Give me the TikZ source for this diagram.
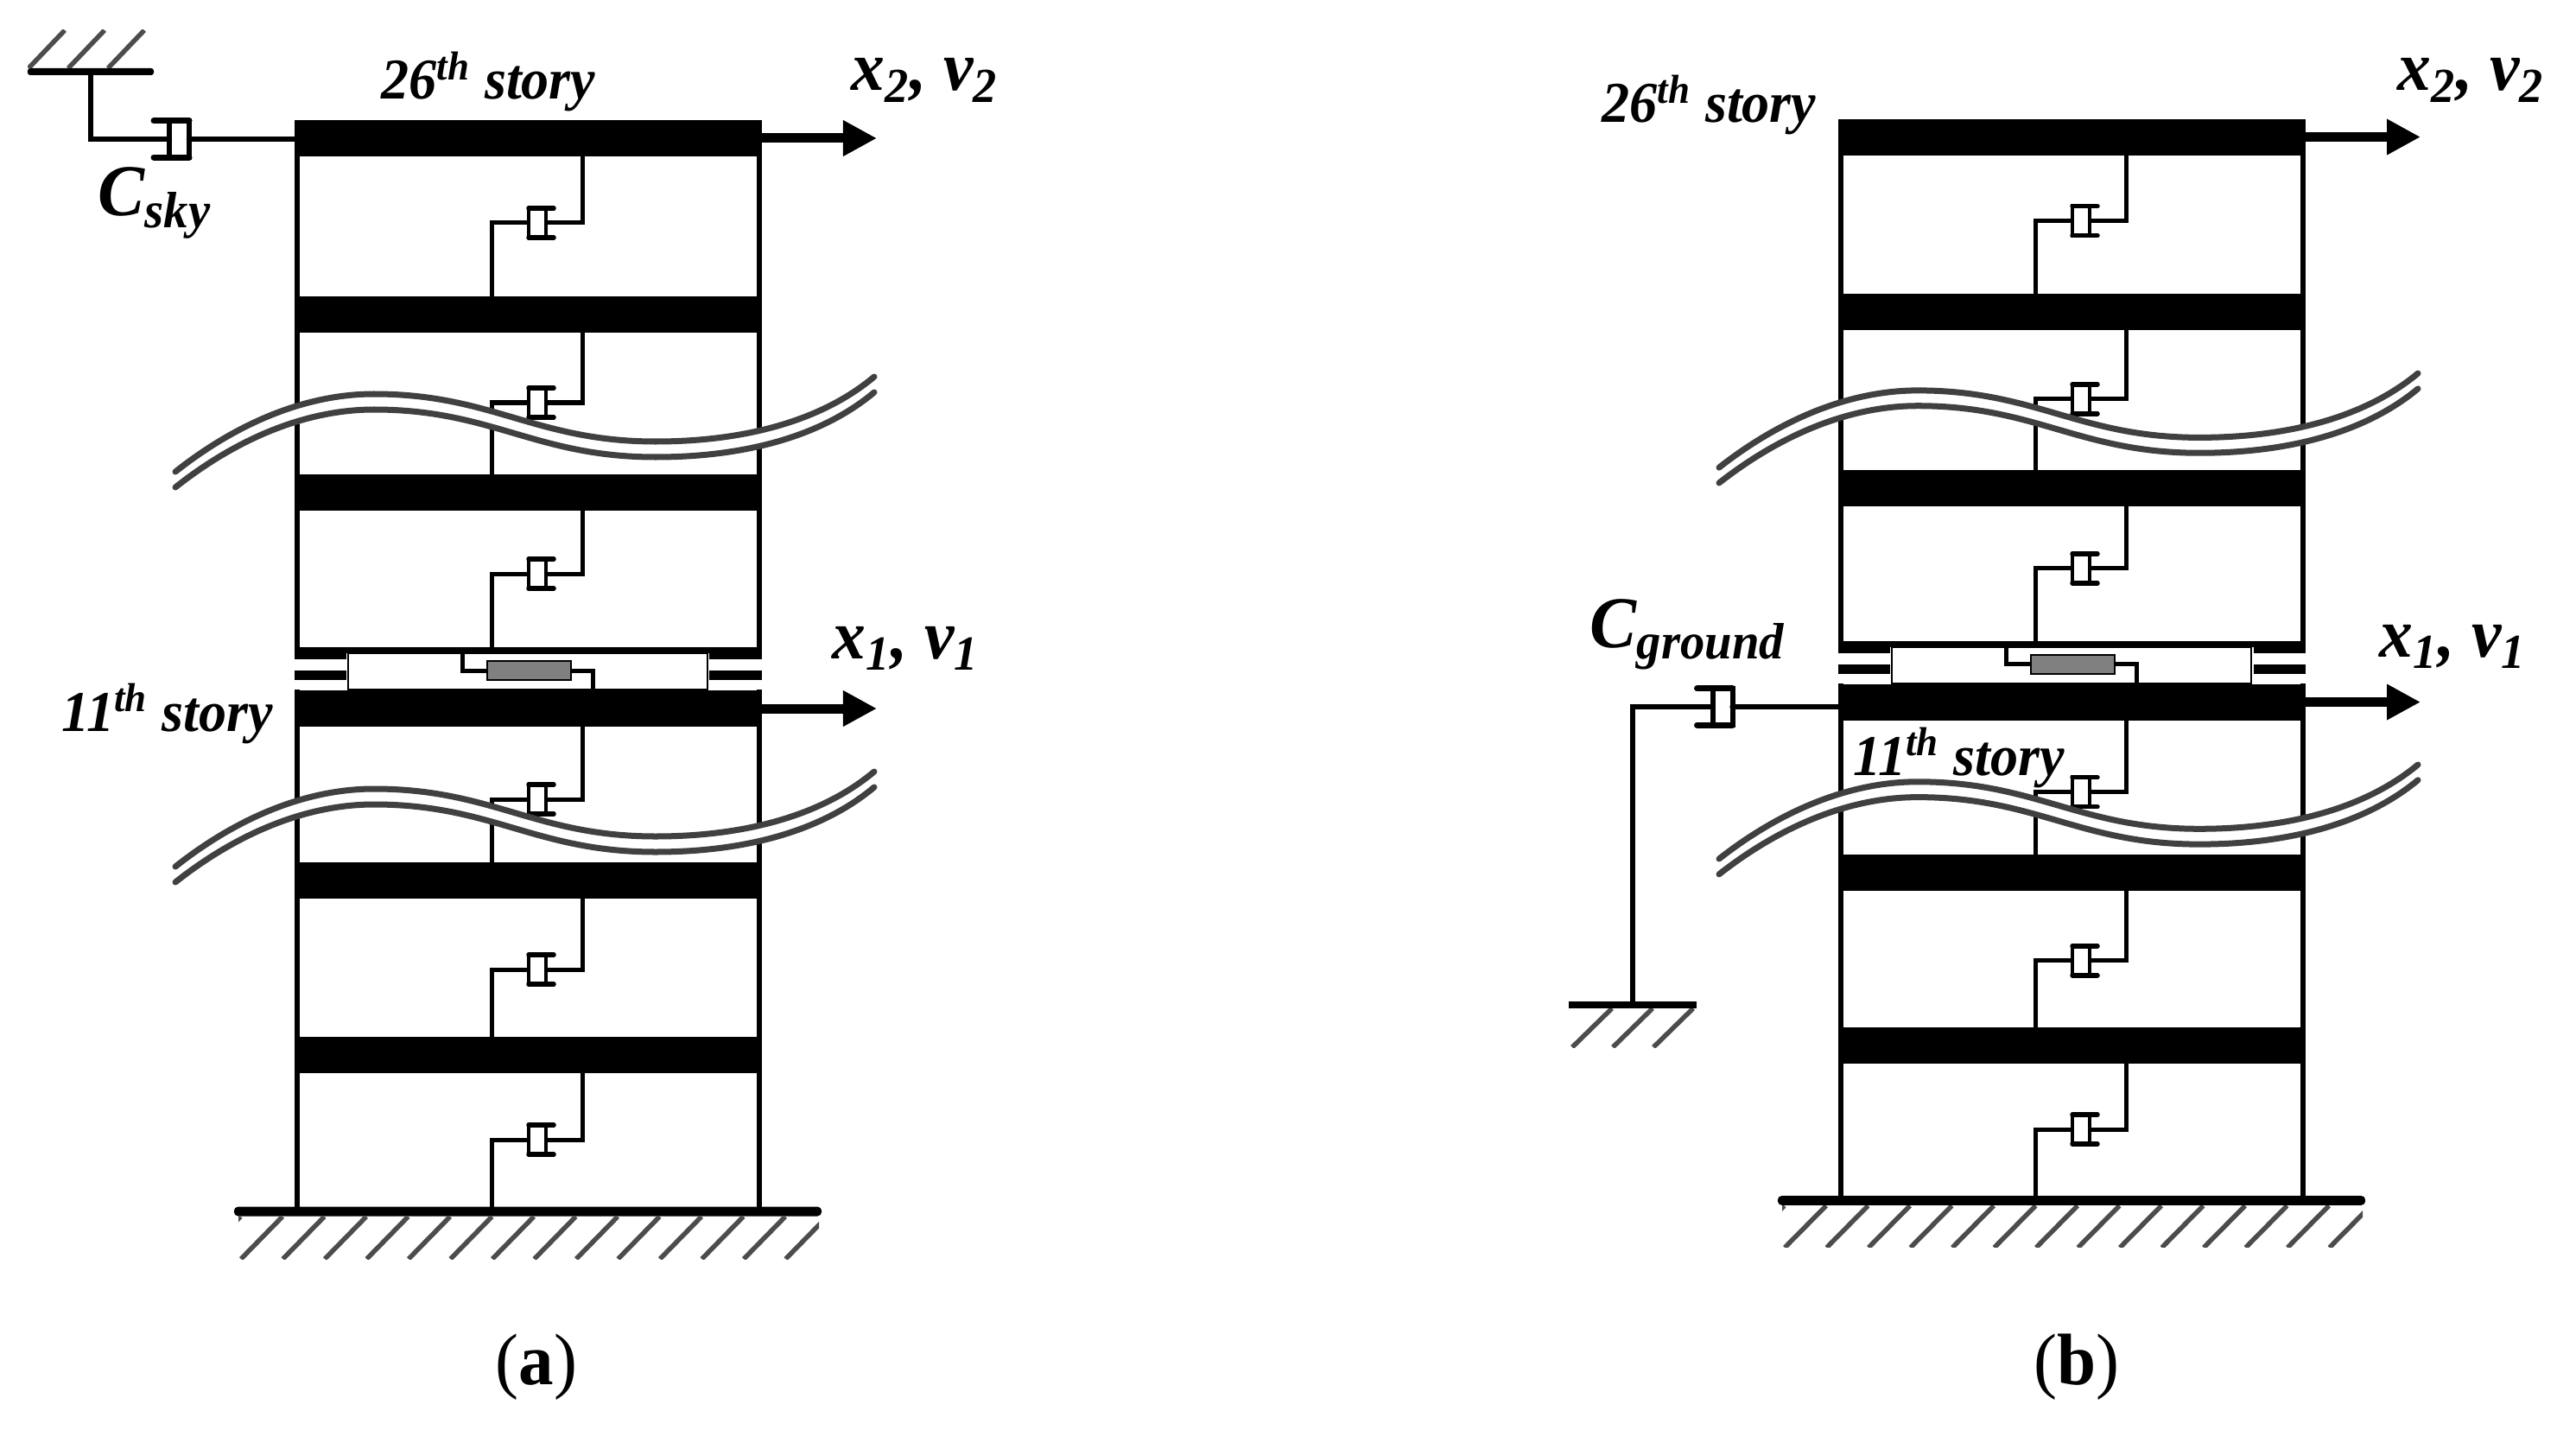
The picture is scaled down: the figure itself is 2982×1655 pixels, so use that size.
\documentclass[tikz,border=0pt]{standalone}
\usepackage{fontspec}
\setmainfont[FakeStretch=0.96]{Liberation Serif}
\usetikzlibrary{arrows.meta}

\tikzset{
  solid bar/.style={fill=black, inner sep=0, outer sep=0},
  beam/.style={solid bar, minimum width=5.41cm, minimum height=0.42cm},
  column/.style={line width=0.06cm},
  link/.style={line width=0.05cm},
  biglink/.style={line width=0.065cm, line cap=round},
  damper/.style={draw, fill=white, line width=0.045cm, inner sep=0, outer sep=0, minimum width=0.2cm, minimum height=0.34cm},
  bigdamper/.style={damper, line width=0.06cm, minimum width=0.23cm, minimum height=0.42cm},
  flange/.style={line width=0.055cm, line cap=round},
  bigflange/.style={line width=0.07cm, line cap=round},
  hatch/.style={black!70, line width=0.055cm},
  breakline/.style={draw=black!75, line width=0.07cm, line cap=round},
  breakgap/.style={draw=white, line width=0.14cm},
  load/.style={line width=0.11cm, -{Triangle[length=0.39cm, width=0.39cm]}},
  story/.style={inner sep=0, anchor=base west, font=\fontsize{19}{22}\selectfont\bfseries\itshape},
  motion/.style={inner sep=0, anchor=base west, font=\fontsize{23}{26}\selectfont\bfseries\itshape},
  coef/.style={inner sep=0, anchor=base west, font=\fontsize{24}{28}\selectfont\bfseries\itshape},
  caption/.style={inner sep=0, anchor=base, font=\fontsize{24}{27}\selectfont},
}

\newcommand{\storyframe}{%
  \coordinate (cl) at (344,0);
  \coordinate (cr) at (879,0);
  \coordinate (al) at (569,0);
  \coordinate (ar) at (674,0);
  \coordinate (il) at (535,0);
  \coordinate (ir) at (686,0);

  \node[beam] (s1) at (611.5,160) {};
  \node[beam] (s2) at (611.5,364) {};
  \node[beam] (s3) at (611.5,570) {};
  \node[beam] (s4) at (611.5,820) {};
  \node[beam] (s5) at (611.5,1019) {};
  \node[beam] (s6) at (611.5,1221) {};
  \node[solid bar, rounded corners=0.05cm, minimum width=6.8cm, minimum height=0.11cm] (gnd) at (611,1402) {};

  \draw[column] (cl |- s1) -- (cl |- gnd);
  \draw[column] (cr |- s1) -- (cr |- gnd);

  % isolation story
  \node[solid bar, fill=white, minimum width=5.41cm, minimum height=0.42cm] (gap) at (611.5,777) {};
  \node[solid bar, minimum width=5.41cm, minimum height=0.07cm] (slab) at (611.5,752.5) {};
  \node[solid bar, minimum width=0.6cm, minimum height=0.07cm] (bl1) at (371,759.5) {};
  \node[solid bar, minimum width=0.6cm, minimum height=0.11cm] (bl2) at (371,781.5) {};
  \node[solid bar, minimum width=0.6cm, minimum height=0.07cm] (br1) at (851.5,759.5) {};
  \node[solid bar, minimum width=0.6cm, minimum height=0.11cm] (br2) at (851.5,781.5) {};
  \node[draw, line width=0.02cm, inner sep=0, minimum width=4.16cm, minimum height=0.42cm] (box) at (611,777) {};
  \node[draw, fill=black!50, line width=0.025cm, inner sep=0, minimum width=0.97cm, minimum height=0.22cm] (vd) at (612.5,776) {};
  \draw[link] (slab.south -| il) |- (vd.west);
  \draw[link] (vd.east) -| (s4.north -| ir);

  \node[damper] (d1) at (622,258) {};
  \node[damper] (d2) at (622,466) {};
  \node[damper] (d3) at (622,664) {};
  \node[damper] (d4) at (622,925) {};
  \node[damper] (d5) at (622,1122) {};
  \node[damper] (d6) at (622,1319) {};

  \foreach \u/\v/\d in {s1/s2/d1, s2/s3/d2, s3/slab/d3, s4/s5/d4, s5/s6/d5, s6/gnd/d6} {
    \draw[link] (\u.south -| ar) |- (\d.east);
    \draw[link] (\d.west) -| (\v.north -| al);
    \draw[flange] (\d.north west) -- ++(29,0);
    \draw[flange] (\d.south west) -- ++(29,0);
  }

  % ground hatching
  \begin{scope}
    \clip (276,1408) rectangle (948,1457);
    \foreach \k in {-1,...,13}
      \draw[hatch] ({279+48.5*\k},1457) -- ++(48,-49);
  \end{scope}

  % break lines
  \foreach \h in {0,457} {
    \begin{scope}[shift={(0,\h)}]
      \path[breakgap] (203,555) .. controls (270,502) and (350,465) .. (433,465) .. controls (570,465) and (620,520) .. (759,520) .. controls (860,520) and (950,497) .. (1012,445);
      \path[breakline] (203,546) .. controls (270,493) and (350,456) .. (433,456) .. controls (570,456) and (620,511) .. (759,511) .. controls (860,511) and (950,488) .. (1012,436);
      \path[breakline] (203,564) .. controls (270,511) and (350,474) .. (433,474) .. controls (570,474) and (620,529) .. (759,529) .. controls (860,529) and (950,506) .. (1012,454);
    \end{scope}
  }

  \coordinate (e1) at (1015,160);
  \coordinate (e2) at (1015,820);
  \draw[load] (s1.east) -- (e1);
  \draw[load] (s4.east) -- (e2);
}

\begin{document}
\begin{tikzpicture}[x=0.01cm, y=-0.01cm]
\useasboundingbox (0,0) rectangle (2982,1655);

\begin{scope}[name prefix=a-]
  \storyframe
\end{scope}

\begin{scope}[name prefix=b-, shift={(1787,0)}, yscale=0.991]
  \storyframe
\end{scope}

% sky damper
\node[solid bar, rounded corners=0.03cm, minimum width=1.46cm, minimum height=0.08cm] (skybar) at (105,83) {};
\begin{scope}
  \clip (32,35) rectangle (176,79);
  \foreach \x in {33,79,125}
    \draw[hatch] (\x,79) -- ++(42,-44);
\end{scope}
\node[bigdamper] (csky) at (207.5,161) {};
\draw[biglink] (skybar.south) |- (csky.west);
\draw[biglink] (csky.east) -- (a-s1.west |- csky.east);
\draw[bigflange] (csky.north east) -- ++(-41,0);
\draw[bigflange] (csky.south east) -- ++(-41,0);

% ground damper
\node[solid bar, minimum width=1.47cm, minimum height=0.08cm] (earthbar) at (1890,1163) {};
\begin{scope}
  \clip (1818,1167) rectangle (1962,1212);
  \foreach \x in {1820,1867,1914}
    \draw[hatch] (\x,1212) -- ++(46,-45);
\end{scope}
\node[bigdamper] (cground) at (1994,818) {};
\draw[biglink] (earthbar.north) |- (cground.west);
\draw[biglink] (cground.east) -- (b-s4.west |- cground.east);
\draw[bigflange] (cground.north east) -- ++(-41,0);
\draw[bigflange] (cground.south east) -- ++(-41,0);

\node[story] (top-a) at (441,115) {26\textsuperscript{th} story};
\node[story] (mid-a) at (71,846) {11\textsuperscript{th} story};
\node[story] (top-b) at (1854,142) {26\textsuperscript{th} story};
\node[story] (mid-b) at (2145,897) {11\textsuperscript{th} story};

\node[motion] (x2-a) at (985,105) {x\textsubscript{2}, v\textsubscript{2}};
\node[motion] (x1-a) at (963,762) {x\textsubscript{1}, v\textsubscript{1}};
\node[motion] (x2-b) at (2775,105) {x\textsubscript{2}, v\textsubscript{2}};
\node[motion] (x1-b) at (2754,760) {x\textsubscript{1}, v\textsubscript{1}};

\node[coef] (lab-sky) at (113,250) {C\textsubscript{sky}};
\node[coef] (lab-gnd) at (1840,749) {C\textsubscript{ground}};

\node[caption] (cap-a) at (621,1602) {(\textbf{a})};
\node[caption] (cap-b) at (2404,1602) {(\textbf{b})};

\end{tikzpicture}
\end{document}
